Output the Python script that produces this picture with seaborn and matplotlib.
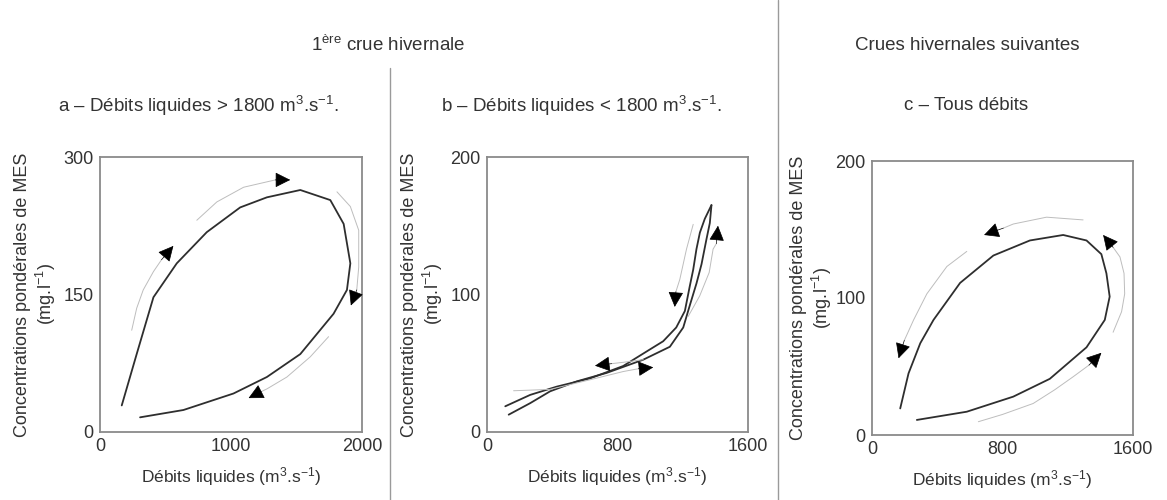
import seaborn as sns
import pandas as pd
import numpy as np
import matplotlib
matplotlib.use('Agg')
import matplotlib.pyplot as plt
from matplotlib.lines import Line2D

# panel a : 1ere crue, debits > 1800
qa = [166, 280, 408, 586, 815, 1070, 1274, 1529, 1758, 1860, 1911, 1885, 1783, 1529, 1274, 1019, 637, 306]
ca = [29, 85, 147, 184, 218, 245, 256, 264, 253, 227, 184, 155, 129, 85, 60, 42, 24, 16]

# panel b : 1ere crue, debits < 1800 (montee puis descente)
qb_up = [133, 265, 387, 550, 734, 958, 1121, 1203, 1243, 1284, 1315, 1345, 1366, 1376]
cb_up = [12.6, 21, 29.6, 36.8, 43, 52.6, 62, 76, 92, 108, 122, 140, 152, 165]
qb_dn = [1376, 1335, 1305, 1284, 1264, 1243, 1213, 1160, 1080, 998, 835, 632, 428, 265, 112]
cb_dn = [165, 155, 145, 133, 118, 106, 88, 76, 66, 60, 48, 39, 33, 27, 18.7]

# panel c : crues suivantes
qc = [275, 581, 866, 1090, 1315, 1427, 1457, 1437, 1406, 1315, 1172, 968, 744, 540, 377, 296, 224, 173]
cc = [11, 17, 28, 41, 64, 84, 101, 118, 132, 142, 146, 142, 131, 111, 84, 67, 45, 19.4]

# fleches grises (dernier point = pointe de la fleche)
arrows_a = [
    ([242, 280, 330, 408, 470, 560], [111, 135, 155, 175, 188, 203]),
    ([739, 892, 1096, 1338, 1452], [231, 251, 267, 275, 275]),
    ([1809, 1911, 1975, 1975, 1960, 1915], [262, 246, 220, 180, 155, 138]),
    ([1745, 1605, 1427, 1274, 1230, 1134], [104, 82, 60, 47, 44, 37]),
]
arrows_b = [
    ([1264, 1223, 1182, 1158, 1151], [151, 133, 111, 102, 91]),
    ([1233, 1304, 1362, 1386, 1406, 1416], [84, 99, 116, 133, 137, 150]),
    ([163, 387, 632, 836, 928, 1019], [30, 31, 38, 44, 46, 47]),
    ([958, 836, 764, 662], [52.6, 50.7, 49.7, 48.2]),
]
arrows_c = [
    ([652, 800, 988, 1120, 1233, 1330, 1406], [9.7, 15, 23, 33, 42.5, 51, 60]),
    ([1478, 1530, 1549, 1545, 1520, 1478, 1417], [75, 90, 103, 118, 130, 137, 146]),
    ([1294, 1070, 866, 805, 687], [157, 159, 154, 151, 146]),
    ([581, 459, 336, 255, 198, 163], [134, 123, 103, 84, 69, 56]),
]

sns.set_theme(style="white")
plt.rcParams['font.family'] = ['Liberation Sans', 'DejaVu Sans']
plt.rcParams['mathtext.fontset'] = 'custom'
plt.rcParams['mathtext.rm'] = 'Liberation Sans'
plt.rcParams['mathtext.it'] = 'Liberation Sans'

txt = '#333333'
fig = plt.figure(figsize=(11.67, 5.0), dpi=100)

ax_a = fig.add_axes([100 / 1167, 1 - 432 / 500, 262 / 1167, 275 / 500])
ax_b = fig.add_axes([487 / 1167, 1 - 432 / 500, 261 / 1167, 275 / 500])
ax_c = fig.add_axes([872 / 1167, 1 - 435 / 500, 261 / 1167, 274 / 500])

main_col = '#2e2e2e'
sns.lineplot(x=qa, y=ca, sort=False, estimator=None, ax=ax_a, color=main_col, lw=1.3)
sns.lineplot(x=qb_up, y=cb_up, sort=False, estimator=None, ax=ax_b, color=main_col, lw=1.3)
sns.lineplot(x=qb_dn, y=cb_dn, sort=False, estimator=None, ax=ax_b, color=main_col, lw=1.3)
sns.lineplot(x=qc, y=cc, sort=False, estimator=None, ax=ax_c, color=main_col, lw=1.3)


def draw_arrows(ax, arrows):
    for xs, ys in arrows:
        sns.lineplot(x=xs[:-1], y=ys[:-1], sort=False, estimator=None, ax=ax,
                     color='#bdbdbd', lw=0.7)
        ax.annotate('', xy=(xs[-1], ys[-1]), xytext=(xs[-2], ys[-2]),
                    arrowprops=dict(arrowstyle='-|>,head_length=0.6,head_width=0.3',
                                    color='black', lw=0.5, shrinkA=0, shrinkB=0,
                                    mutation_scale=16))


draw_arrows(ax_a, arrows_a)
draw_arrows(ax_b, arrows_b)
draw_arrows(ax_c, arrows_c)

ylab = 'Concentrations pondérales de MES\n(mg.l$^{-1}$)'
xlab = 'Débits liquides (m$^{3}$.s$^{-1}$)'
setup = [
    (ax_a, [0, 2000], [0, 1000, 2000], [0, 300], [0, 150, 300], -0.16),
    (ax_b, [0, 1600], [0, 800, 1600], [0, 200], [0, 100, 200], -0.162),
    (ax_c, [0, 1600], [0, 800, 1600], [0, 200], [0, 100, 200], -0.146),
]
for ax, xl, xt, yl, yt, lx in setup:
    ax.set_xlim(xl)
    ax.set_ylim(yl)
    ax.set_xticks(xt)
    ax.set_yticks(yt)
    ax.tick_params(axis='both', labelsize=13, labelcolor=txt, length=3,
                   width=1, color='#888888', direction='out', pad=1.5)
    for s in ax.spines.values():
        s.set_color('#8a8a8a')
        s.set_linewidth(1.3)
        s.set_visible(True)
    ax.set_ylabel(ylab, fontsize=13, color=txt, linespacing=1.15)
    ax.yaxis.set_label_coords(lx, 0.5)
    ax.set_xlabel(xlab, fontsize=12.5, color=txt)
    ax.xaxis.set_label_coords(0.5, -0.12)

# titres
tfs = 13.5
fig.text(388 / 1167, 1 - 45 / 500, '1$^{\\mathrm{ère}}$ crue hivernale', ha='center', va='center',
         fontsize=tfs, color=txt)
fig.text(967 / 1167, 1 - 45 / 500, 'Crues hivernales suivantes', ha='center', va='center',
         fontsize=tfs, color=txt)
fig.text(198 / 1167, 1 - 106 / 500, 'a – Débits liquides > 1800 m$^{3}$.s$^{-1}$.', ha='center',
         va='center', fontsize=tfs, color=txt)
fig.text(581 / 1167, 1 - 106 / 500, 'b – Débits liquides < 1800 m$^{3}$.s$^{-1}$.', ha='center',
         va='center', fontsize=tfs, color=txt)
fig.text(966 / 1167, 1 - 106 / 500, 'c – Tous débits', ha='center', va='center',
         fontsize=tfs, color=txt)

# separateurs
fig.add_artist(Line2D([390 / 1167, 390 / 1167], [0, 1 - 68 / 500], transform=fig.transFigure,
                      color='#9a9a9a', lw=1))
fig.add_artist(Line2D([778 / 1167, 778 / 1167], [0, 1], transform=fig.transFigure,
                      color='#9a9a9a', lw=1))

fig.savefig('out.png', dpi=100)
